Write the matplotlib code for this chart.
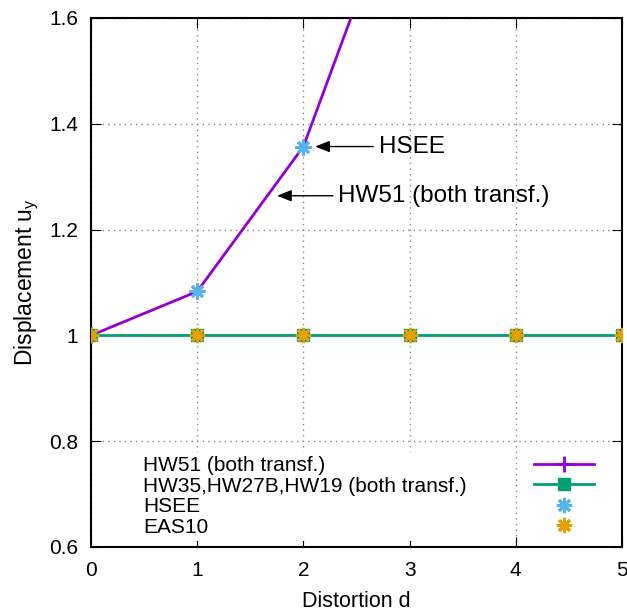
import matplotlib.pyplot as plt
from matplotlib.lines import Line2D

plt.rcParams['font.family'] = ['Liberation Sans', 'DejaVu Sans']

d = [0, 1, 2, 3, 4, 5]
hw51 = [1.0, 1.083, 1.357, 1.90]
hw35 = [1.0, 1.0, 1.0, 1.0, 1.0, 1.0]
hsee = [1.0, 1.083, 1.357]
eas10 = [1.0, 1.0, 1.0, 1.0, 1.0, 1.0]
labels = ['HW51 (both transf.)', 'HW35,HW27B,HW19 (both transf.)', 'HSEE', 'EAS10']

purple = '#9400d3'
green = '#009e73'
blue = '#56b4e9'
orange = '#e69f00'
star = (8, 2, 0)

fig = plt.figure(figsize=(6.27, 6.12), dpi=100)
ax = fig.add_axes([91/627, 1 - 547/612, 531/627, 529/612])

h1, = ax.plot(d[:4], hw51, color=purple, lw=2, marker='+', ms=11, mew=2, zorder=3)
h2, = ax.plot(d, hw35, color=green, lw=2, marker='s', ms=9, zorder=3)
h3, = ax.plot(d[:3], hsee, ls='none', color=blue, marker=star, ms=11, mew=2, zorder=4)
h4, = ax.plot(d, eas10, ls='none', color=orange, marker=star, ms=11, mew=2, zorder=5)

ax.set_xlim(0, 5)
ax.set_ylim(0.6, 1.6)
ax.set_xticks(d)
ax.set_yticks([0.6, 0.8, 1.0, 1.2, 1.4, 1.6])
ax.set_yticklabels(['0.6', '0.8', '1', '1.2', '1.4', '1.6'])
ax.grid(True, color='#888888', ls=(0, (1, 3)), lw=1)
ax.tick_params(direction='in', top=True, right=True, labelsize=15, length=7)
ax.tick_params(axis='y', pad=9)
ax.tick_params(axis='x', pad=10)
for s in ax.spines.values():
    s.set_linewidth(1.5)

ax.set_xlabel('Distortion d', fontsize=15.5, labelpad=8)
ax.set_ylabel('Displacement u$_\\mathregular{y}$', fontsize=16.5, labelpad=6)

arrow = dict(arrowstyle='-|>,head_length=0.5,head_width=0.2', color='black', lw=1)
ax.annotate('HSEE', xy=(2.085, 1.357), xytext=(2.71, 1.357), fontsize=17.5,
            va='center', ha='left', arrowprops=arrow)
ax.annotate('HW51 (both transf.)', xy=(1.726, 1.264), xytext=(2.33, 1.264),
            fontsize=17.5, va='center', ha='left', arrowprops=arrow)

# text column on the left, line samples on the right
blank = [Line2D([], [], visible=False) for _ in labels]
leg1 = ax.legend(blank, labels, loc='lower left', bbox_to_anchor=(0.07, -0.008),
                 fontsize=15, frameon=True, edgecolor='none', facecolor='white',
                 framealpha=1, handlelength=0, handletextpad=0,
                 labelspacing=0.07, borderpad=0.2)
ax.add_artist(leg1)
ax.legend([h1, h2, h3, h4], [''] * 4, loc='lower right',
          bbox_to_anchor=(0.975, -0.008), fontsize=15, frameon=True,
          edgecolor='none', facecolor='white', framealpha=1,
          handlelength=2.9, handletextpad=0, labelspacing=0.07, borderpad=0.2)

fig.savefig('out.png', dpi=100)
